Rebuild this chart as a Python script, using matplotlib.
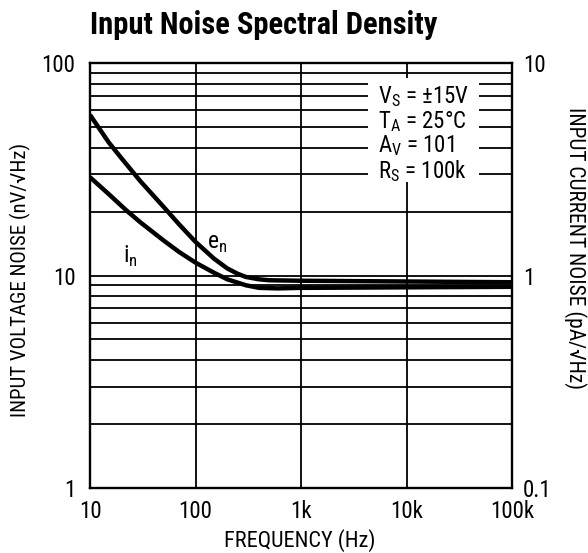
import matplotlib
matplotlib.use('Agg')
import matplotlib.pyplot as plt
from matplotlib import font_manager
from matplotlib.patches import Rectangle
from matplotlib.ticker import NullLocator

# pick a narrow sans face if there is one
available = {f.name for f in font_manager.fontManager.ttflist}
narrow = 'DejaVu Sans'
for name in ['Liberation Sans Narrow', 'Roboto Condensed', 'Open Sans Condensed', 'DejaVu Sans Condensed']:
    if name in available:
        narrow = name
        break
plt.rcParams['font.family'] = [narrow, 'DejaVu Sans']
plt.rcParams['mathtext.fontset'] = 'custom'
plt.rcParams['mathtext.rm'] = narrow

# voltage noise e_n (nV/rtHz)
freq_en = [10, 15, 20, 30, 50, 70, 100, 150, 200, 250, 300, 400, 500, 1000, 100000]
en = [57, 42.4, 35.5, 27.8, 21.0, 17.4, 14.4, 12.0, 10.8, 10.2, 9.85, 9.6, 9.5, 9.45, 9.3]

# current noise i_n (pA/rtHz)
freq_in = [10, 15, 22, 30, 50, 70, 100, 150, 200, 300, 400, 600, 1000, 100000]
in_pa = [2.9, 2.42, 2.03, 1.78, 1.46, 1.29, 1.15, 1.03, 0.96, 0.9, 0.875, 0.87, 0.875, 0.885]

xticks = [10, 100, 1000, 10000, 100000]
xtick_labels = ['10', '100', '1k', '10k', '100k']
left_ticks = [1, 10, 100]
left_labels = ['1', '10', '100']
right_ticks = [0.1, 1, 10]
right_labels = ['0.1', '1', '10']
conditions = [r'V$_\mathregular{S}$ = ±15V', r'T$_\mathregular{A}$ = 25°C',
              r'A$_\mathregular{V}$ = 101', r'R$_\mathregular{S}$ = 100k']

fig = plt.figure(figsize=(5.88, 5.53), dpi=100)
ax = fig.add_axes([0.1531, 0.1175, 0.7177, 0.7685])
ax.set_xscale('log')
ax.set_yscale('log')
ax.set_xlim(10, 100000)
ax.set_ylim(1, 100)
ax.set_axisbelow(True)

ax.set_xticks(xticks, labels=xtick_labels)
ax.xaxis.set_minor_locator(NullLocator())
ax.set_yticks(left_ticks, labels=left_labels)
minor_y = [m * d for d in (1, 10) for m in range(2, 10)]
ax.set_yticks(minor_y, minor=True)
ax.set_yticklabels([], minor=True)
ax.grid(True, which='major', axis='x', color='black', lw=1.3)
ax.grid(True, which='both', axis='y', color='black', lw=1.3)
ax.tick_params(which='both', length=0)
ax.tick_params(axis='y', pad=10.5, labelsize=16.5)
ax.tick_params(axis='x', pad=8.5, labelsize=16.5)
for s in ax.spines.values():
    s.set_linewidth(1.7)

ax.plot(freq_en, en, color='black', lw=3.2, solid_capstyle='butt', zorder=2)

ax2 = ax.twinx()
ax2.set_yscale('log')
ax2.set_ylim(0.1, 10)
ax2.set_yticks(right_ticks, labels=right_labels)
ax2.yaxis.set_minor_locator(NullLocator())
ax2.tick_params(which='both', length=0, pad=8, labelsize=16.5)
for s in ax2.spines.values():
    s.set_visible(False)
ax2.plot(freq_in, in_pa, color='black', lw=3.2, solid_capstyle='butt', zorder=2)

ax.text(0.301, 0.576, r'e$_\mathregular{n}$', transform=ax.transAxes,
        fontsize=17, ha='center', va='center')
ax.text(0.095, 0.544, r'i$_\mathregular{n}$', transform=ax.transAxes,
        fontsize=17, ha='center', va='center')

# white panel with test conditions
ax.add_patch(Rectangle((0.659, 0.72), 0.263, 0.245, transform=ax.transAxes,
                       facecolor='white', edgecolor='none', zorder=1))
ax.text(0.682, 0.833, '\n'.join(conditions), transform=ax.transAxes, fontsize=16.5,
        ha='left', va='center', linespacing=1.0, zorder=3)

fig.text(0.153, 0.9385, 'Input Noise Spectral Density', fontsize=22,
         fontweight='bold', ha='left', va='baseline')
fig.text(0.510, 0.0217, 'FREQUENCY (Hz)', fontsize=16, ha='center', va='center')
fig.text(0.034, 0.494, 'INPUT VOLTAGE NOISE (nV/√Hz)', fontsize=15,
         rotation=90, ha='center', va='center')
fig.text(0.979, 0.5515, 'INPUT CURRENT NOISE (pA/√Hz)', fontsize=15.5,
         rotation=270, ha='center', va='center')

fig.savefig('out.png', dpi=100)
